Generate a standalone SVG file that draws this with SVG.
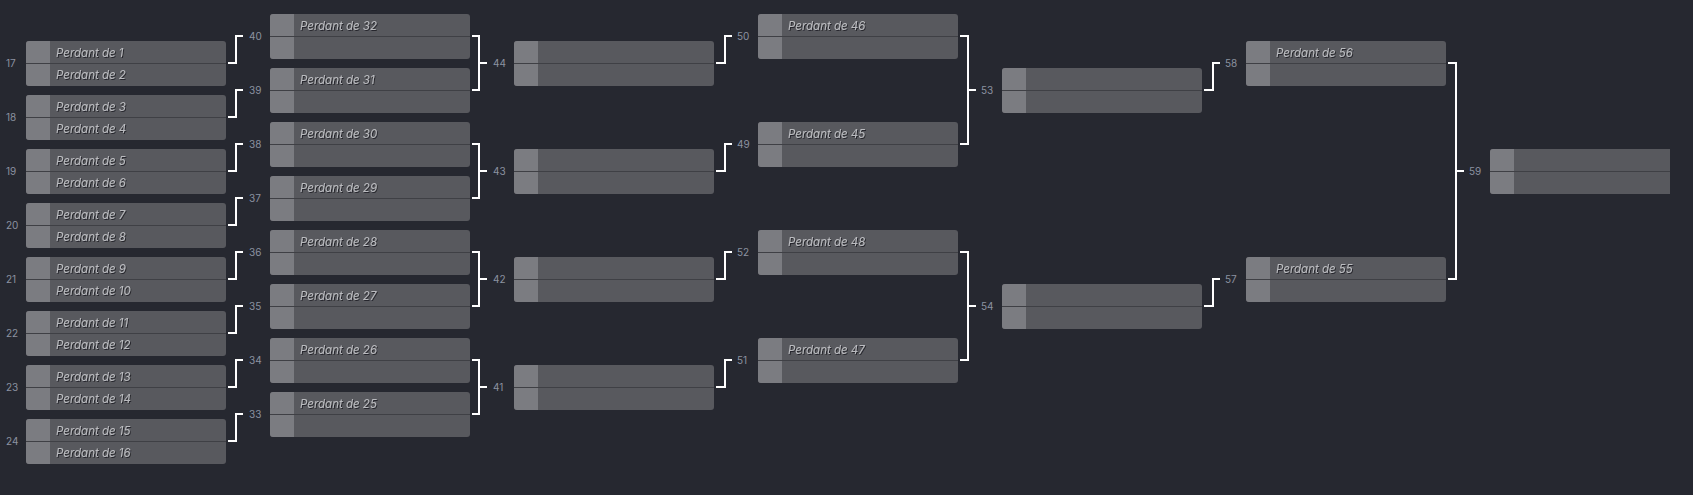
<svg xmlns="http://www.w3.org/2000/svg" xmlns:xlink="http://www.w3.org/1999/xlink" width="1693" height="495" viewBox="0 0 1693 495">
<style>
.bg{fill:#262830}
.box{fill:#58595e}
.seed{fill:#7b7c81}
.div{stroke:#3f4045;stroke-width:1}
.t{font-family:Inter,"Liberation Sans",sans-serif;font-size:11.5px;font-style:italic;fill:#babbbf;filter:url(#sh)}
.n{font-family:Inter,"Liberation Sans",sans-serif;font-size:10px;fill:#8c92a0}
.c{fill:none;stroke:#ffffff;stroke-width:2}
</style>
<defs>
<filter id="sh" x="-5%" y="-20%" width="110%" height="150%"><feDropShadow dx="1" dy="1" stdDeviation="0" flood-color="#1a1b20" flood-opacity="0.8"/></filter>
<g id="m">
<rect x="0" y="0" width="200" height="45" rx="3" class="box"/>
<path d="M3,0H24V45H3A3,3 0 0 1 0,42V3A3,3 0 0 1 3,0Z" class="seed"/>
<line x1="0" y1="22.5" x2="200" y2="22.5" class="div"/>
</g>
</defs>
<rect x="0" y="0" width="1693" height="495" class="bg"/>

<g id="connectors">
<path class="c" d="M228,63H236V36H243 M228,117H236V90H243 M228,171H236V144H243 M228,225H236V198H243 M228,279H236V252H243 M228,333H236V306H243 M228,387H236V360H243 M228,441H236V414H243"/>
<path class="c" d="M472,36H479V90H472 M479,63H487 M472,144H479V198H472 M479,171H487 M472,252H479V306H472 M479,279H487 M472,360H479V414H472 M479,387H487"/>
<path class="c" d="M716,63H725V36H732 M716,171H725V144H732 M716,279H725V252H732 M716,387H725V360H732"/>
<path class="c" d="M960,36H968V144H960 M968,90H976 M960,252H968V360H960 M968,306H976"/>
<path class="c" d="M1204,90H1213V63H1220 M1204,306H1213V279H1220"/>
<path class="c" d="M1448,63H1456V279H1448 M1456,171H1464"/>
<g class="n">
<text x="249" y="40">40</text><text x="249" y="94">39</text><text x="249" y="148">38</text><text x="249" y="202">37</text>
<text x="249" y="256">36</text><text x="249" y="310">35</text><text x="249" y="364">34</text><text x="249" y="418">33</text>
<text x="493" y="67">44</text><text x="493" y="175">43</text><text x="493" y="283">42</text><text x="493" y="391">41</text>
<text x="737" y="40">50</text><text x="737" y="148">49</text><text x="737" y="256">52</text><text x="737" y="364">51</text>
<text x="981" y="94">53</text><text x="981" y="310">54</text>
<text x="1225" y="67">58</text><text x="1225" y="283">57</text>
<text x="1469" y="175">59</text>
</g>
</g>

<g id="m17"><use xlink:href="#m" x="26" y="41"/><text class="n" x="6" y="67">17</text><text class="t" x="56" y="56.5">Perdant de 1</text><text class="t" x="56" y="79">Perdant de 2</text></g>
<g id="m18"><use xlink:href="#m" x="26" y="95"/><text class="n" x="6" y="121">18</text><text class="t" x="56" y="110.5">Perdant de 3</text><text class="t" x="56" y="133">Perdant de 4</text></g>
<g id="m19"><use xlink:href="#m" x="26" y="149"/><text class="n" x="6" y="175">19</text><text class="t" x="56" y="164.5">Perdant de 5</text><text class="t" x="56" y="187">Perdant de 6</text></g>
<g id="m20"><use xlink:href="#m" x="26" y="203"/><text class="n" x="6" y="229">20</text><text class="t" x="56" y="218.5">Perdant de 7</text><text class="t" x="56" y="241">Perdant de 8</text></g>
<g id="m21"><use xlink:href="#m" x="26" y="257"/><text class="n" x="6" y="283">21</text><text class="t" x="56" y="272.5">Perdant de 9</text><text class="t" x="56" y="295">Perdant de 10</text></g>
<g id="m22"><use xlink:href="#m" x="26" y="311"/><text class="n" x="6" y="337">22</text><text class="t" x="56" y="326.5">Perdant de 11</text><text class="t" x="56" y="349">Perdant de 12</text></g>
<g id="m23"><use xlink:href="#m" x="26" y="365"/><text class="n" x="6" y="391">23</text><text class="t" x="56" y="380.5">Perdant de 13</text><text class="t" x="56" y="403">Perdant de 14</text></g>
<g id="m24"><use xlink:href="#m" x="26" y="419"/><text class="n" x="6" y="445">24</text><text class="t" x="56" y="434.5">Perdant de 15</text><text class="t" x="56" y="457">Perdant de 16</text></g>

<g id="m40"><use xlink:href="#m" x="270" y="14"/><text class="t" x="300" y="29.5">Perdant de 32</text></g>
<g id="m39"><use xlink:href="#m" x="270" y="68"/><text class="t" x="300" y="83.5">Perdant de 31</text></g>
<g id="m38"><use xlink:href="#m" x="270" y="122"/><text class="t" x="300" y="137.5">Perdant de 30</text></g>
<g id="m37"><use xlink:href="#m" x="270" y="176"/><text class="t" x="300" y="191.5">Perdant de 29</text></g>
<g id="m36"><use xlink:href="#m" x="270" y="230"/><text class="t" x="300" y="245.5">Perdant de 28</text></g>
<g id="m35"><use xlink:href="#m" x="270" y="284"/><text class="t" x="300" y="299.5">Perdant de 27</text></g>
<g id="m34"><use xlink:href="#m" x="270" y="338"/><text class="t" x="300" y="353.5">Perdant de 26</text></g>
<g id="m33"><use xlink:href="#m" x="270" y="392"/><text class="t" x="300" y="407.5">Perdant de 25</text></g>

<g id="m44"><use xlink:href="#m" x="514" y="41"/></g>
<g id="m43"><use xlink:href="#m" x="514" y="149"/></g>
<g id="m42"><use xlink:href="#m" x="514" y="257"/></g>
<g id="m41"><use xlink:href="#m" x="514" y="365"/></g>

<g id="m50"><use xlink:href="#m" x="758" y="14"/><text class="t" x="788" y="29.5">Perdant de 46</text></g>
<g id="m49"><use xlink:href="#m" x="758" y="122"/><text class="t" x="788" y="137.5">Perdant de 45</text></g>
<g id="m52"><use xlink:href="#m" x="758" y="230"/><text class="t" x="788" y="245.5">Perdant de 48</text></g>
<g id="m51"><use xlink:href="#m" x="758" y="338"/><text class="t" x="788" y="353.5">Perdant de 47</text></g>

<g id="m53"><use xlink:href="#m" x="1002" y="68"/></g>
<g id="m54"><use xlink:href="#m" x="1002" y="284"/></g>

<g id="m58"><use xlink:href="#m" x="1246" y="41"/><text class="t" x="1276" y="56.5">Perdant de 56</text></g>
<g id="m57"><use xlink:href="#m" x="1246" y="257"/><text class="t" x="1276" y="272.5">Perdant de 55</text></g>

<g id="m59">
<path d="M1493,149H1670V194H1493A3,3 0 0 1 1490,191V152A3,3 0 0 1 1493,149Z" class="box"/>
<path d="M1493,149H1514V194H1493A3,3 0 0 1 1490,191V152A3,3 0 0 1 1493,149Z" class="seed"/>
<line x1="1490" y1="171.5" x2="1670" y2="171.5" class="div"/>
</g>
</svg>
